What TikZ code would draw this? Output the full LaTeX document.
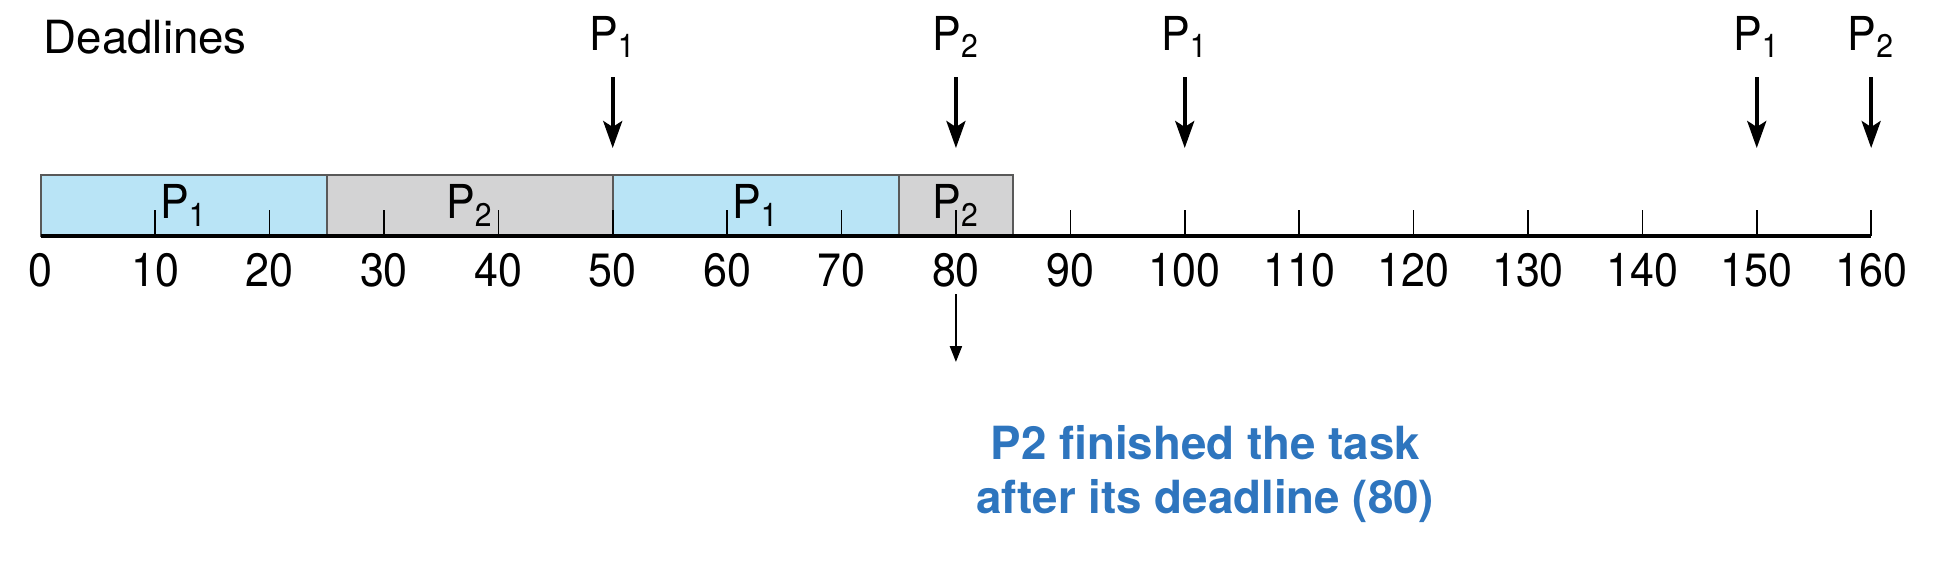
\documentclass[tikz,border=0pt]{standalone}
\usepackage{fontspec}
\setmainfont{TeX Gyre Heros}[FakeStretch=0.92]
\newfontfamily\notefont{TeX Gyre Heros}
\usetikzlibrary{arrows.meta}
\definecolor{runblue}{RGB}{185,228,246}
\definecolor{rungray}{RGB}{211,211,212}
\definecolor{noteblue}{RGB}{46,117,190}
\tikzstyle{slot} = [draw = black!65, line width = 0.5pt]
\tikzstyle{tick} = [draw = black, line width = 0.45pt]
\tikzstyle{timeline} = [draw = black, line width = 1.4pt]
\tikzstyle{deadline} = [draw = black, line width = 1.1pt, -{Stealth[length=2.7mm, width=1.9mm, inset=0.6mm]}]
\tikzstyle{late} = [draw = black, line width = 0.6pt, -{Triangle[length=1.6mm, width=1.2mm]}]

\begin{document}
\begin{tikzpicture}[x = 1.144mm, y = 1mm, every node/.style = {font = \fontsize{13.3}{15}\selectfont, inner sep = 0pt}]
        \useasboundingbox (-3.558,0) rectangle (165.67,-58.2);
        % executed slots
        \draw [slot, fill = runblue]  (0,-17.5)  rectangle (25,-23.6) node [midway] (s1) {P\textsubscript{1}};
        \draw [slot, fill = rungray]  (25,-17.5) rectangle (50,-23.6) node [midway] (s2) {P\textsubscript{2}};
        \draw [slot, fill = runblue]  (50,-17.5) rectangle (75,-23.6) node [midway] (s3) {P\textsubscript{1}};
        \draw [slot, fill = rungray]  (75,-17.5) rectangle (85,-23.6) node [midway] (s4) {P\textsubscript{2}};
        % time axis
        \coordinate (t0) at (0,-23.6);
        \coordinate (t160) at (160,-23.6);
        \draw [timeline] (t0) -- (t160);
        \foreach \t in {10,20,...,160}
            \draw [tick] (\t,-23.6) -- (\t,-21.0);
        \foreach \t in {0,10,...,160}
            \node (n\t) at (\t,-27.0) {\t};
        % deadlines
        \node (dead) [anchor = west, font = \fontsize{13}{15}\notefont] at (0.2,-3.7) {Deadlines};
        \foreach \t/\p in {50/1,80/2,100/1,150/1,160/2} {
            \node (dl\t) at (\t,-3.7) {P\textsubscript{\p}};
            \coordinate (ds\t) at (\t,-7.7);
            \coordinate (de\t) at (\t,-14.8);
            \draw [deadline] (ds\t) -- (de\t);
        }
        % missed deadline
        \coordinate (ls) at (80,-29.4);
        \coordinate (le) at (80,-36.2);
        \draw [late] (ls) -- (le);
        \node (note) [align = center, text = noteblue, font = \fontsize{13}{15.6}\notefont\bfseries] at (101.8,-47.4) {P2 finished the task\\after its deadline (80)};
    \end{tikzpicture}
\end{document}
